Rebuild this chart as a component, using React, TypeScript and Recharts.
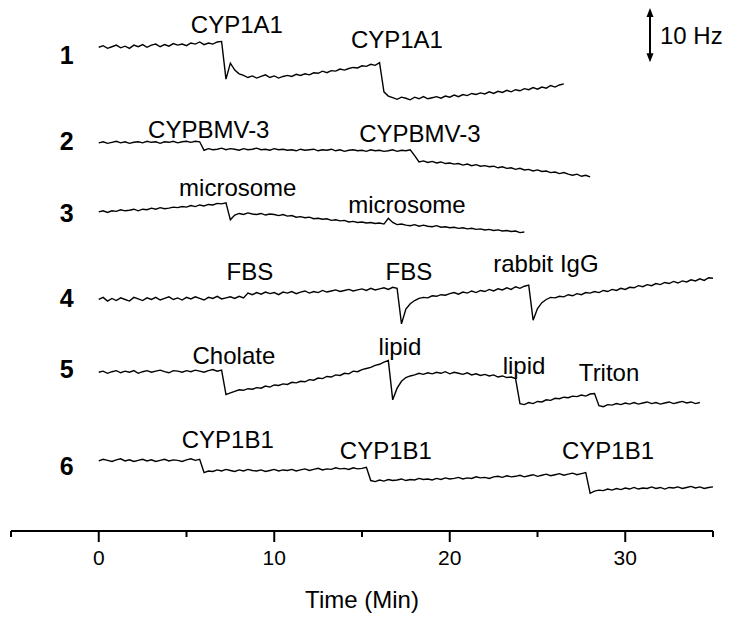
import { LineChart, Line, XAxis, YAxis, ReferenceDot, ReferenceLine } from "recharts";

// time grid, minutes
const TIME = [
  0, 0.25, 0.5, 0.75, 1, 1.25, 1.5, 1.75, 2, 2.25, 2.5, 2.75, 3, 3.25, 3.5, 3.75,
  4, 4.25, 4.5, 4.75, 5, 5.25, 5.5, 5.75, 6, 6.25, 6.5, 6.75, 7, 7.25, 7.5, 7.75,
  8, 8.25, 8.5, 8.75, 9, 9.25, 9.5, 9.75, 10, 10.25, 10.5, 10.75, 11, 11.25, 11.5, 11.75,
  12, 12.25, 12.5, 12.75, 13, 13.25, 13.5, 13.75, 14, 14.25, 14.5, 14.75, 15, 15.25, 15.5, 15.75,
  16, 16.25, 16.5, 16.75, 17, 17.25, 17.5, 17.75, 18, 18.25, 18.5, 18.75, 19, 19.25, 19.5, 19.75,
  20, 20.25, 20.5, 20.75, 21, 21.25, 21.5, 21.75, 22, 22.25, 22.5, 22.75, 23, 23.25, 23.5, 23.75,
  24, 24.25, 24.5, 24.75, 25, 25.25, 25.5, 25.75, 26, 26.25, 26.5, 26.75, 27, 27.25, 27.5, 27.75,
  28, 28.25, 28.5, 28.75, 29, 29.25, 29.5, 29.75, 30, 30.25, 30.5, 30.75, 31, 31.25, 31.5, 31.75,
  32, 32.25, 32.5, 32.75, 33, 33.25, 33.5, 33.75, 34, 34.25, 34.5, 34.75, 35,
];

// frequency shift (Hz) of each trace, relative to its start
const TRACE_1 = [
  0.0, 0.3, -0.2, 0.1, 0.4, -0.1, 0.2, -0.2, 0.4, 0.1,
  0.5, 0.0, 0.4, 0.6, 0.1, 0.5, 0.2, 0.7, 0.4, 0.6,
  0.3, 0.8, 0.6, 1.0, 0.5, 0.8, 0.6, 1.0, 1.1,
  -6.0,
  -3.0, -4.3, -5.0,
  -5.3, -5.7, -5.4, -5.8, -5.5, -5.2, -5.7, -5.4, -5.8, -5.5, -5.3,
  -5.5, -5.1, -5.3, -5.0, -5.2, -4.8, -4.9, -4.5, -4.8, -4.4,
  -4.5, -4.1, -4.3, -4.0, -3.8, -3.9, -3.5, -3.6, -3.2, -3.4, -2.9,
  -8.4, -9.2,
  -9.5, -9.8, -9.4, -9.6, -9.9, -9.4, -9.7, -9.3, -9.7, -9.5,
  -9.3, -9.6, -9.2, -9.4, -9.0, -9.3, -8.9, -9.1, -8.7, -8.9,
  -8.6, -8.8, -8.4, -8.7, -8.3, -8.5, -8.1, -8.4, -8.0, -8.2,
  -7.8, -8.0, -7.6, -7.9, -7.5, -7.7, -7.2, -7.5, -7.1, -6.9,
];

const TRACE_2 = [
  0.0, 0.2, -0.1, 0.1, 0.3, 0.0, 0.2, -0.1, 0.1, 0.2,
  0.0, 0.3, 0.1, 0.2, -0.1, 0.2, 0.1, 0.3, 0.0, 0.2,
  0.3, 0.1, 0.3, 0.2,
  -1.4, -1.1, -1.3, -1.2, -1.0, -1.3, -1.1, -1.2, -1.4, -1.1,
  -1.3, -1.2, -1.0, -1.3, -1.2, -1.4, -1.1, -1.3, -1.2, -1.4,
  -1.3, -1.5, -1.2, -1.4, -1.3, -1.2, -1.5, -1.3, -1.4, -1.2,
  -1.5, -1.3, -1.6, -1.4, -1.3, -1.5, -1.4, -1.6, -1.3, -1.5,
  -1.4, -1.6, -1.5, -1.3, -1.6, -1.4, -1.5, -1.3,
  -2.4, -3.6, -3.4, -3.7, -3.5, -3.8, -3.6, -3.9, -3.8, -4.0,
  -3.9, -4.2, -4.0, -4.3, -4.1, -4.4, -4.3, -4.5, -4.4, -4.7,
  -4.5, -4.8, -4.7, -5.0, -4.8, -5.1, -5.0, -5.3, -5.1, -5.4,
  -5.3, -5.6, -5.5, -5.8, -5.6, -5.9, -6.1, -5.9, -6.3, -6.1, -6.4,
];

const TRACE_3 = [
  0.0, 0.2, -0.1, 0.2, 0.1, 0.4, 0.2, 0.3, 0.5, 0.2,
  0.5, 0.4, 0.7, 0.5, 0.8, 0.6, 0.7, 0.9, 0.8, 1.0,
  0.9, 1.2, 1.0, 1.3, 1.1, 1.4, 1.3, 1.6, 1.5, 1.7,
  -1.5,
  -0.6, -0.3, -0.5, -0.2, -0.4, -0.5, -0.3, -0.6, -0.4, -0.5, -0.7, -0.5,
  -0.8, -0.7, -1.0, -0.9, -1.1, -1.0, -1.3, -1.2, -1.4, -1.3,
  -1.6, -1.5, -1.7, -1.6, -1.9, -1.8, -2.0, -1.9, -2.1, -2.0,
  -2.2, -2.1, -2.3,
  -1.2, -2.0,
  -2.4, -2.3, -2.5, -2.6, -2.4, -2.7, -2.5, -2.7, -2.8, -2.6,
  -2.9, -2.8, -3.0, -2.9, -3.1, -3.0, -3.2, -3.1, -3.3, -3.2,
  -3.4, -3.3, -3.5, -3.4, -3.6, -3.5, -3.7, -3.6, -3.9, -3.8,
];

const TRACE_4 = [
  0.0, 0.4, -0.3, 0.2, -0.2, 0.3, 0.0, -0.3, 0.4, 0.1,
  -0.2, 0.3, 0.0, 0.4, -0.1, 0.2, 0.5, 0.0, 0.3, -0.1,
  0.4, 0.1, 0.5, 0.2, -0.1, 0.4, 0.2, 0.6, 0.1, 0.3,
  0.5, 0.2, 0.6, 0.3,
  1.2, 0.9, 1.3, 1.0, 1.4, 1.1, 1.3, 0.9, 1.4, 1.2,
  1.5, 1.1, 1.4, 1.6, 1.2, 1.5, 1.3, 1.7, 1.4, 1.6,
  1.8, 1.5, 1.7, 1.9, 1.6, 1.8, 2.0, 1.7, 2.1, 1.8,
  2.0, 2.2, 1.9, 2.3, 2.1,
  -4.6, -1.8, -0.8,
  -0.2, 0.2, 0.4, 0.3, 0.7, 0.6, 0.9, 0.8, 1.1, 1.3,
  1.0, 1.4, 1.2, 1.6, 1.3, 1.7, 1.5, 1.9, 1.6, 2.0,
  1.8, 2.2, 1.9, 2.4, 2.1, 2.5, 2.7,
  -3.9, -1.7, -0.6,
  0.0, 0.4, 0.3, 0.6, 0.5, 0.9, 0.7, 1.1, 0.9, 1.3,
  1.2, 1.5, 1.3, 1.7, 1.5, 1.9, 1.7, 2.1, 1.9, 2.3,
  2.2, 2.6, 2.4, 2.8, 2.6, 3.0, 2.8, 3.2, 3.0, 3.4,
  3.1, 3.5, 3.3, 3.7, 3.5, 3.9, 3.6, 4.1, 4.0,
];

const TRACE_5 = [
  0.0, 0.2, -0.2, 0.1, 0.3, -0.1, 0.2, 0.0, 0.3, -0.2,
  0.1, 0.3, 0.0, 0.2, 0.4, 0.1, -0.1, 0.3, 0.2, 0.0,
  0.3, 0.1, 0.4, 0.2, 0.0, 0.3, 0.5, 0.2, 0.4,
  -4.2,
  -3.9, -3.6, -3.3, -3.4, -3.1, -3.2, -2.9, -3.0, -2.6, -2.8,
  -2.4, -2.5, -2.2, -2.3, -1.9, -2.0, -1.7, -1.8, -1.4, -1.5,
  -1.1, -1.2, -0.8, -0.9, -0.5, -0.6, -0.2, -0.3, 0.2, 0.1,
  0.5, 0.7, 0.9, 1.3, 1.5, 1.9, 2.2,
  -5.2,
  -3.0, -1.7, -1.0, -0.7, -0.5, -0.2, -0.4, -0.1, -0.3, 0.0,
  -0.2, 0.1, -0.3, 0.0, -0.2, -0.4, -0.1, -0.5, -0.3, -0.6,
  -0.4, -0.7, -0.5, -0.9, -0.7, -1.0, -0.9, -1.2,
  -5.9, -6.1, -5.7, -5.9, -5.5, -5.6, -5.2, -5.3, -4.9, -5.0,
  -4.7, -4.8, -4.5, -4.6, -4.3, -4.5, -4.1, -4.0,
  -6.3, -6.5, -6.1, -6.2, -5.9, -6.1, -5.8, -6.0, -5.7, -6.0,
  -5.8, -5.6, -5.9, -5.7, -6.0, -5.8, -5.6, -5.9, -5.7, -5.5,
  -5.8, -5.6, -5.9, -5.7,
];

const TRACE_6 = [
  0.0, 0.3, 0.1, -0.1, 0.2, 0.4, 0.0, 0.2, -0.1, 0.1,
  0.3, 0.0, 0.2, -0.1, 0.1, 0.3, 0.0, 0.2, 0.1, -0.1,
  0.2, 0.4, 0.1, 0.3,
  -2.2, -1.9, -2.0, -1.7, -1.9, -1.6, -1.8, -2.0, -1.7, -1.9,
  -1.6, -1.8, -1.9, -1.7, -2.0, -1.8, -1.6, -1.9, -1.7, -1.8,
  -1.6, -1.9, -1.7, -1.5, -1.8, -1.6, -1.4, -1.7, -1.5, -1.6,
  -1.3, -1.5, -1.4, -1.6, -1.3, -1.5, -1.4, -1.2,
  -3.7, -3.9, -3.6, -3.8, -3.5, -3.7, -3.6, -3.4, -3.7, -3.5,
  -3.6, -3.3, -3.5, -3.4, -3.6, -3.3, -3.5, -3.2, -3.4, -3.3,
  -3.1, -3.4, -3.2, -3.3, -3.0, -3.2, -3.1, -3.3, -3.0, -2.9,
  -3.1, -2.8, -3.0, -2.9, -2.7, -3.0, -2.8, -2.6, -2.9, -2.7,
  -2.5, -2.8, -2.6, -2.4, -2.7, -2.5, -2.3, -2.6, -2.4, -2.2,
  -6.1, -5.7, -5.5, -5.6, -5.3, -5.5, -5.2, -5.4, -5.1, -5.3,
  -5.0, -5.3, -5.1, -5.2, -4.9, -5.2, -5.0, -5.3, -5.0, -5.1,
  -4.9, -5.2, -5.0, -4.8, -5.1, -4.9, -5.2, -5.0, -4.9,
];

const TRACES = [TRACE_1, TRACE_2, TRACE_3, TRACE_4, TRACE_5, TRACE_6];
const TRACE_NAMES = ["1", "2", "3", "4", "5", "6"];
// vertical stacking of the traces (Hz)
const OFFSETS = [91.1, 73.1, 60.1, 43.6, 29.9, 13.2];
const NAME_POS = [89.6, 73.4, 59.9, 43.9, 30.5, 12.2];

// injections: [label, time, height]
const EVENTS: [string, number, number][] = [
  ["CYP1A1", 7.87, 95.3],
  ["CYP1A1", 16.99, 92.5],
  ["CYPBMV-3", 6.27, 75.7],
  ["CYPBMV-3", 18.3, 74.8],
  ["microsome", 7.92, 64.6],
  ["microsome", 17.56, 61.4],
  ["FBS", 8.61, 48.8],
  ["FBS", 17.67, 48.8],
  ["rabbit IgG", 25.48, 50.3],
  ["Cholate", 7.7, 33.0],
  ["lipid", 17.16, 34.8],
  ["lipid", 24.23, 31.1],
  ["Triton", 29.08, 29.9],
  ["CYP1B1", 7.35, 17.3],
  ["CYP1B1", 16.36, 15.1],
  ["CYP1B1", 29.02, 15.1],
];

const X_TICKS = [-5, 0, 5, 10, 15, 20, 25, 30, 35];

const data = TIME.map((t, i) => {
  const row: Record<string, number | null> = { t };
  TRACES.forEach((tr, k) => {
    row["s" + k] = i < tr.length ? tr[i] + OFFSETS[k] : null;
  });
  return row;
});

const TimeTick = ({ x, y, payload }: any) => {
  const major = payload.value % 10 === 0;
  return (
    <g>
      <line x1={x} x2={x} y1={y} y2={y + (major ? 11 : 6)} stroke="#000" strokeWidth={2} />
      {major && (
        <text x={x} y={y + 34} textAnchor="middle" fontSize={21} fill="#000">
          {payload.value}
        </text>
      )}
    </g>
  );
};

const ScaleBar = ({ x1, y1, x2, y2 }: any) => (
  <g>
    <line x1={x1} x2={x2} y1={y1 + 6} y2={y2 - 6} stroke="#000" strokeWidth={2} />
    <polygon points={`${x1 - 3.5},${y1 + 9} ${x1 + 3.5},${y1 + 9} ${x1},${y1}`} fill="#000" />
    <polygon points={`${x2 - 3.5},${y2 - 9} ${x2 + 3.5},${y2 - 9} ${x2},${y2}`} fill="#000" />
    <text x={x1 + 10} y={(y1 + y2) / 2} dominantBaseline="central" fontSize={24} fill="#000">
      10 Hz
    </text>
  </g>
);

export default function App() {
  return (
    <div
      style={{
        position: "absolute",
        left: 0,
        top: 0,
        width: 750,
        height: 624,
        background: "#fff",
        fontFamily: "'Liberation Sans', Arial, sans-serif",
      }}
    >
      <LineChart width={750} height={624} data={data} margin={{ top: 0, right: 37, bottom: 0, left: 11 }}>
        <XAxis
          dataKey="t"
          type="number"
          domain={[-5, 35]}
          ticks={X_TICKS}
          interval={0}
          tickSize={0}
          tickMargin={0}
          tickLine={false}
          tick={<TimeTick />}
          axisLine={{ stroke: "#000", strokeWidth: 2 }}
          height={93}
          label={{ value: "Time (Min)", position: "insideBottom", offset: 16, fontSize: 24, fill: "#000" }}
        />
        <YAxis hide type="number" domain={[0, 100]} />
        {TRACES.map((_, k) => (
          <Line
            key={k}
            dataKey={"s" + k}
            type="linear"
            stroke="#000"
            strokeWidth={1.4}
            dot={false}
            activeDot={false}
            isAnimationActive={false}
          />
        ))}
        {TRACE_NAMES.map((name, k) => (
          <ReferenceDot
            key={"n" + k}
            x={-1.82}
            y={NAME_POS[k]}
            shape={({ cx, cy }: any) => (
              <text x={cx} y={cy} textAnchor="middle" dominantBaseline="central" fontSize={25} fontWeight="bold" fill="#000">
                {name}
              </text>
            )}
          />
        ))}
        {EVENTS.map(([label, t, v], k) => (
          <ReferenceDot
            key={"e" + k}
            x={t}
            y={v}
            shape={({ cx, cy }: any) => (
              <text x={cx} y={cy} textAnchor="middle" dominantBaseline="central" fontSize={24} fill="#000">
                {label}
              </text>
            )}
          />
        ))}
        <ReferenceLine
          segment={[
            { x: 31.41, y: 98.5 },
            { x: 31.41, y: 88.3 },
          ]}
          shape={<ScaleBar />}
        />
      </LineChart>
    </div>
  );
}
